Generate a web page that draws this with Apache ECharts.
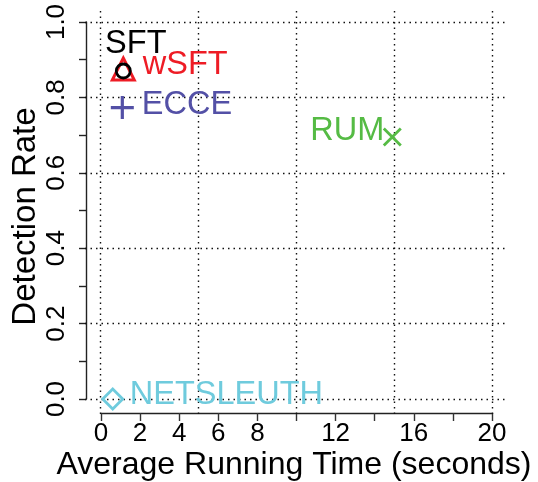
<!DOCTYPE html>
<html>
<head>
<meta charset="utf-8">
<script src="https://cdn.jsdelivr.net/npm/echarts@6/dist/echarts.min.js"></script>
<style>
html,body{margin:0;padding:0;background:#fff;}
#chart{width:538px;height:482px;}
</style>
</head>
<body>
<div id="chart"></div>
<script>
// ---- data ----
var methods = ['wSFT', 'SFT', 'ECCE', 'RUM', 'NETSLEUTH'];
var runningTime = [1.14, 1.14, 1.09, 14.9, 0.6];
var detectionRate = [0.87, 0.87, 0.773, 0.695, 0.0];
var xTicks = [0, 2, 4, 6, 8, 12, 16, 20];
var gridXValues = [0, 5, 10, 15, 20];
var gridYValues = [0, 0.2, 0.4, 0.6, 0.8, 1.0];

var FONT = "'Liberation Sans', Arial, sans-serif";

var styles = {
  'wSFT': {symbol: 'triangle', size: 22, color: '#EE1C25', bw: 3, symOff: [0, -2],
           label: {align: 'left', offset: [19.5, -4]}},
  'SFT': {symbol: 'circle', size: 14, color: '#000000', bw: 2.8,
           label: {align: 'center', offset: [12.5, -27]}},
  'ECCE': {symbol: 'path://M0,10L20,10M10,0L10,20', size: 23, color: '#5350A6', bw: 3.2,
           label: {align: 'left', offset: [19.5, -3]}},
  'RUM': {symbol: 'path://M0,0L20,20M20,0L0,20', size: 17, color: '#55BB44', bw: 2.8,
           label: {align: 'right', offset: [-8, -6]}},
  'NETSLEUTH': {symbol: 'diamond', size: 20, color: '#6FCBDD', bw: 2.8,
           label: {align: 'left', offset: [17, -4]}}
};

var dotted = {color: '#111', width: 1.4, type: [1.5, 4]};

var series = methods.map(function (m, i) {
  var s = styles[m];
  return {
    name: m,
    type: 'scatter',
    xAxisIndex: 0,
    yAxisIndex: 0,
    clip: false,
    symbol: s.symbol,
    symbolSize: s.size,
    symbolOffset: s.symOff || [0, 0],
    itemStyle: {color: 'rgba(0,0,0,0)', borderColor: s.color, borderWidth: s.bw, opacity: 1},
    label: {
      show: true,
      formatter: m,
      position: 'inside',
      align: s.label.align,
      verticalAlign: 'middle',
      offset: s.label.offset,
      color: s.color,
      opacity: 1,
      textBorderWidth: 0,
      textBorderColor: 'transparent',
      textShadowBlur: 0,
      fontSize: 32.5,
      fontFamily: FONT
    },
    emphasis: {disabled: true},
    z: 3 + i,
    data: [[runningTime[i], detectionRate[i]]]
  };
});

// carrier series for the dotted grid (full plot region)
series.unshift({
  type: 'scatter',
  xAxisIndex: 1,
  yAxisIndex: 1,
  data: [],
  silent: true,
  markLine: {
    silent: true,
    symbol: ['none', 'none'],
    label: {show: false},
    lineStyle: dotted,
    emphasis: {disabled: true},
    animation: false,
    data: gridXValues.map(function (v) { return {xAxis: v}; })
      .concat(gridYValues.map(function (v) { return {yAxis: v}; }))
  },
  z: 1
});

var chart = echarts.init(document.getElementById('chart'), null, {renderer: 'canvas'});
chart.setOption({
  animation: false,
  backgroundColor: '#ffffff',
  grid: [
    {left: 101, right: 46, top: 22, bottom: 83, containLabel: false, outerBoundsMode: 'none'},
    {left: 85, right: 30, top: 7, bottom: 68, containLabel: false, outerBoundsMode: 'none'}
  ],
  xAxis: [
    {
      type: 'value', gridIndex: 0, min: 0, max: 20, interval: 2,
      offset: 14,
      name: 'Average Running Time (seconds)',
      nameLocation: 'middle',
      nameGap: 36,
      nameMoveOverlap: false,
      nameTextStyle: {fontSize: 32, color: '#000', fontFamily: FONT, padding: [0, 5, 0, 0]},
      axisLine: {show: true, onZero: false, lineStyle: {color: '#222', width: 1.4}},
      axisTick: {show: true, length: 8, lineStyle: {color: '#333', width: 1.4}},
      axisLabel: {
        fontSize: 26, color: '#000', fontFamily: FONT, margin: 8, hideOverlap: false,
        formatter: function (v) { return xTicks.indexOf(v) >= 0 ? String(v) : ''; }
      },
      splitLine: {show: false}
    },
    {
      type: 'value', gridIndex: 1, min: -0.8, max: 20.8, show: false,
      splitLine: {show: false}
    }
  ],
  yAxis: [
    {
      type: 'value', gridIndex: 0, min: 0, max: 1, interval: 0.2,
      offset: 15,
      name: 'Detection Rate',
      nameLocation: 'middle',
      nameGap: 44,
      nameMoveOverlap: false,
      nameTextStyle: {fontSize: 33, color: '#000', fontFamily: FONT, padding: [0, 12, 0, 0]},
      axisLine: {show: true, onZero: false, lineStyle: {color: '#222', width: 1.4}},
      axisTick: {show: true, length: 7, lineStyle: {color: '#222', width: 1.4}},
      minorTick: {show: true, splitNumber: 2, length: 7, lineStyle: {color: '#222', width: 1.4}},
      axisLabel: {
        fontSize: 26, color: '#000', fontFamily: FONT, margin: 16, rotate: 90, hideOverlap: false,
        formatter: function (v) { return v.toFixed(1); }
      },
      splitLine: {show: false},
      minorSplitLine: {show: false}
    },
    {
      type: 'value', gridIndex: 1, min: -0.04, max: 1.04, show: false,
      splitLine: {show: false}
    }
  ],
  series: series
});
</script>
</body>
</html>
